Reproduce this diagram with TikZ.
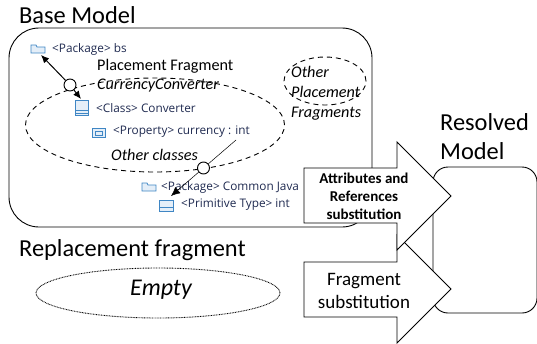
\documentclass[tikz,border=0pt]{standalone}
\usepackage{fontspec}
\setmainfont{Carlito}
\newfontfamily\uifont{Open Sans}
\usetikzlibrary{arrows.meta,shapes.geometric}
\definecolor{iconblue}{HTML}{3F86C4}
\definecolor{iconfill}{HTML}{E4EEF8}
\definecolor{uitext}{HTML}{1F2A50}
\tikzset{
  title/.style={anchor=west,inner sep=0pt,font=\fontsize{24.4}{29}\selectfont},
  ui/.style={anchor=west,inner sep=0pt,text=uitext,font=\uifont\fontsize{11.8}{14}\selectfont},
  frag/.style={anchor=west,inner sep=0pt,font=\fontsize{16.2}{20}\selectfont},
  fragit/.style={frag,font=\itshape\fontsize{16.2}{20}\selectfont},
  dashell/.style={ellipse,draw,line width=.9pt,dash pattern=on 5pt off 4pt,inner sep=0pt},
  hub/.style={circle,draw,fill=white,line width=.9pt,minimum size=12pt,inner sep=0pt},
  big/.style={draw,fill=white,line width=.9pt,line join=miter},
  icon/.style={draw=iconblue,fill=iconfill,line width=.8pt},
  link/.style={line width=1pt,-{Latex[length=8pt,width=7pt]}},
  thin link/.style={line width=.5pt,-{Latex[length=9pt,width=8pt]}},
}
\begin{document}
\begin{tikzpicture}[x=1pt,y=-1pt]
\useasboundingbox (0,0) rectangle (537,343);
% base model
\node[title] (basetitle) at (19,15) {Base Model};
\draw[line width=.9pt,rounded corners=30pt] (9,28) rectangle (372,227);
\node[title] (repl) at (19,250) {Replacement fragment};
\node[ellipse,draw,dash pattern=on .8pt off .8pt,line width=.9pt,minimum width=244pt,minimum height=50pt,inner sep=0pt] (emptyell) at (158,293) {};
\node[inner sep=0pt,font=\itshape\fontsize{24}{28}\selectfont] (emptytext) at (161,290) {Empty};
% ellipses
\node[dashell,minimum width=259pt,minimum height=94pt] (placement) at (155,125) {};
\node[dashell,minimum width=82pt,minimum height=48pt] (other) at (325,81) {};
% tree
\draw[icon] (31,46) -- (31,53) -- (45,53) -- (45,47) -- (37,47) -- (36,45) -- (31,45) -- cycle;
\draw[icon] (75,100) rectangle (88,115); \draw[iconblue,line width=.7pt] (75,110) -- (88,110) (75,113) -- (88,113);
\draw[icon] (92,128) rectangle (105,137); \draw[iconblue,line width=.7pt] (95,131) rectangle (102,135);
\draw[icon] (142,184) -- (142,191) -- (156,191) -- (156,185) -- (148,185) -- (147,183) -- (142,183) -- cycle;
\draw[icon] (159,200) rectangle (173,211); \draw[iconblue,line width=.7pt] (159,207) -- (173,207);
\node[ui] (bs) at (52,49) {<Package> bs};
\node[ui] (conv) at (96,108) {<Class> Converter};
\node[ui] (prop) at (113,132) {<Property> currency : int};
\node[ui] (java) at (161,187) {<Package> Common Java};
\node[ui] (prim) at (181,205) {<Primitive Type> int};
\node[frag] (pf) at (97,66) {Placement Fragment};
\node[fragit] (cc) at (97,86) {CurrencyConverter};
\node[fragit] (oc) at (111,155) {Other classes};
\node[fragit,align=left] (of) at (291,93) {Other\\Placement\\Fragments};
% hubs and connectors
\node[hub] (h1) at (70,85) {};
\node[hub] (h2) at (203.5,168) {};
\coordinate (bsend) at (41,55);
\coordinate (convend) at (81,99);
\coordinate (propend) at (236,140);
\coordinate (primend) at (171,196);
\draw[link] (h1) -- (bsend);
\draw[link] (h1) -- (convend);
\draw[line width=.5pt] (propend) -- (h2);
\draw[thin link] (h2) -- (primend);
% resolved model
\node[title,align=left] (restitle) at (440,136.5) {Resolved\\Model};
\draw[line width=.9pt,rounded corners=15pt] (433,167) rectangle (537,313);
% block arrows
\draw[big] (304,262) -- (397,262) -- (397,235) -- (451,289) -- (397,343) -- (397,317) -- (304,317) -- cycle;
\node[align=center,inner sep=0pt,font=\fontsize{19}{23}\selectfont] (fs) at (364,290.5) {Fragment\\substitution};
\draw[big] (304,168) -- (397,168) -- (397,142) -- (451,196) -- (397,250) -- (397,223) -- (304,223) -- cycle;
\node[align=center,inner sep=0pt,font=\bfseries\fontsize{15}{18}\selectfont] (ars) at (364,196) {Attributes and\\References\\substitution};
\end{tikzpicture}
\end{document}
